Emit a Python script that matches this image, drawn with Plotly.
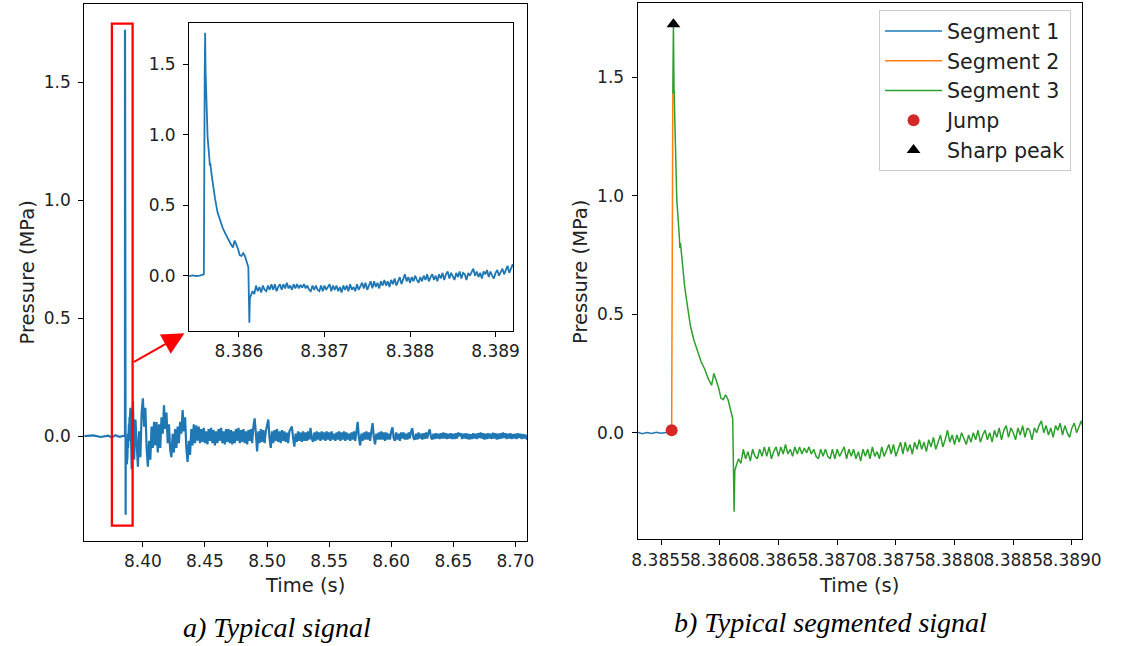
import numpy as np
import plotly.graph_objects as go

# ---------------- data ----------------
# quiet part before the event (left panel only)
pre_t = [8.3527, 8.3600, 8.3660, 8.3720, 8.3750, 8.3780, 8.3810, 8.3845]
pre_p = [0.000, 0.003, -0.004, 0.002, -0.006, 0.004, -0.003, 0.002]

# Segment 1 (baseline before the jump)
seg1_t = [8.38530, 8.38534, 8.38538, 8.38542, 8.38546, 8.38550, 8.38554, 8.38559]
seg1_p = [0.002, -0.004, 0.001, -0.003, 0.002, -0.002, 0.001, 0.010]

# Segment 2 (the jump)
seg2_t = [8.38559, 8.38560]
seg2_p = [0.010, 1.430]

# Segment 3 – decay after the sharp peak
seg3_decay_t = [8.385600, 8.385605, 8.385610, 8.385619, 8.385634, 8.385655, 8.385660,
                8.385665, 8.385680, 8.385700, 8.385720, 8.385750, 8.385780, 8.385810,
                8.385840, 8.385870, 8.385900, 8.385930, 8.385950, 8.385970, 8.385990,
                8.386010, 8.386030, 8.386050, 8.386070, 8.386090, 8.386110, 8.386122,
                8.386128]
seg3_decay_p = [1.430, 1.724, 1.460, 1.260, 0.980, 0.830, 0.780, 0.800, 0.720, 0.620,
                0.550, 0.450, 0.390, 0.340, 0.300, 0.270, 0.230, 0.200, 0.250, 0.220,
                0.190, 0.145, 0.140, 0.160, 0.140, 0.100, 0.060, -0.334, -0.160]

# Segment 3 – noisy tail, sampled every 20 microseconds from 8.38614 s
seg3_tail_start = 8.38614
seg3_tail_step = 0.00002
seg3_tail_p = [
    -0.14, -0.11, -0.13, -0.07, -0.11, -0.08, -0.12, -0.07, -0.10, -0.11,
    -0.07, -0.10, -0.06, -0.10, -0.06, -0.11, -0.08, -0.06, -0.10, -0.06,
    -0.09, -0.05, -0.09, -0.07, -0.10, -0.06, -0.09, -0.06, -0.09, -0.065,
    -0.085, -0.06, -0.09, -0.07, -0.10, -0.11, -0.07, -0.10, -0.07, -0.10,
    -0.11, -0.07, -0.11, -0.07, -0.10, -0.08, -0.06, -0.11, -0.07, -0.10,
    -0.07, -0.11, -0.08, -0.12, -0.07, -0.10, -0.07, -0.11, -0.06, -0.10,
    -0.08, -0.11, -0.06, -0.10, -0.07, -0.05, -0.09, -0.05, -0.10, -0.07,
    -0.04, -0.09, -0.04, -0.08, -0.05, -0.09, -0.04, -0.07, -0.03, -0.07,
    -0.04, -0.08, -0.03, -0.06, -0.02, -0.07, -0.04, -0.01, -0.06, -0.03,
    0.01, -0.04, -0.01, -0.05, -0.01, -0.04, 0.00, -0.03, -0.05, -0.01,
    -0.04, 0.00, -0.03, 0.01, -0.04, -0.01, 0.01, -0.03, 0.00, -0.04,
    0.01, -0.02, 0.02, -0.03, 0.01, 0.03, -0.02, 0.02, 0.00, -0.03,
    0.02, -0.01, 0.03, -0.02, 0.02, 0.01, -0.03, 0.02, 0.00, 0.03,
    0.05, 0.00, 0.03, -0.01, 0.02, -0.02, 0.03, 0.01, 0.04, -0.01,
    0.03, 0.00, -0.02, 0.02, 0.04, 0.00, 0.03, 0.05, 0.01, 0.04,
    0.07, 0.02, 0.05, 0.08, 0.05,
]

# long oscillating tail of the full signal, sampled every 1 ms from 8.390 s
tail_start = 8.390
tail_step = 0.001
tail_p = [
    0.12, -0.14, 0.15, -0.10, 0.07, -0.05, -0.13, 0.02, -0.09, 0.10,
    0.16, 0.04, 0.12, -0.05, -0.13, -0.02, -0.10, 0.04, -0.05, 0.06,
    -0.04, 0.06, -0.07, 0.05, -0.05, 0.08, 0.01, 0.13, 0.03, 0.10,
    -0.03, 0.05, -0.06, -0.09, 0.01, -0.07, 0.03, -0.05, 0.04, -0.03,
    0.06, 0.01, 0.11, 0.02, 0.08, -0.05, -0.11, -0.02, -0.08, 0.03,
    -0.04, 0.05, -0.03, 0.045, -0.02, 0.04, -0.03, 0.03, -0.025, 0.035,
    -0.03, 0.02, -0.035, 0.03, -0.02, 0.035, -0.03, 0.025, -0.04, 0.02,
    -0.03, 0.03, -0.02, 0.035, -0.03, 0.02, -0.035, 0.03, -0.025, 0.03,
    -0.03, 0.025, -0.035, 0.02, -0.03, 0.03, -0.02, 0.035, -0.03, 0.025,
    -0.025, 0.03, -0.03, 0.02, -0.035, 0.025, -0.02, 0.03, -0.03, 0.04,
    0.075, 0.01, -0.065, 0.02, -0.03, 0.03, -0.025, 0.025, -0.03, 0.02,
    0.04, 0.07, -0.01, -0.05, 0.02, -0.03, 0.025, -0.02, 0.03, -0.025,
    0.02, -0.03, 0.025, -0.02, 0.02, -0.025, 0.015, -0.03, 0.02, 0.03,
    0.04, -0.01, -0.045, 0.01, -0.025, 0.02, -0.02, 0.015, -0.025, 0.02,
    -0.02, 0.015, -0.02, 0.02, -0.015, 0.035, -0.01, -0.025, 0.015, -0.02,
    0.02, -0.015, 0.015, -0.02, 0.02, -0.015, 0.015, -0.02, 0.02, -0.015,
    0.015, -0.02, 0.02, -0.015, 0.01, -0.02, 0.015, -0.015, 0.02, -0.02,
    0.015, -0.015, 0.02, -0.02, 0.015, -0.015, 0.01, -0.02, 0.015, -0.015,
    0.02, -0.02, 0.03, 0.06, -0.01, -0.04, 0.01, -0.02, 0.015, -0.015,
    0.02, -0.015, 0.015, -0.02, 0.02, 0.055, -0.005, -0.035, 0.01, -0.015,
    0.015, -0.015, 0.02, -0.015, 0.015, -0.02, 0.015, -0.015, 0.01, -0.015,
    0.02, 0.037, -0.01, -0.02, 0.015, -0.015, 0.01, -0.02, 0.015, -0.01,
    0.015, -0.015, 0.01, -0.015, 0.015, -0.01, 0.02, 0.033, -0.01, -0.015,
    0.01, -0.015, 0.015, -0.01, 0.01, -0.015, 0.012, -0.012, 0.015, -0.01,
    0.015, 0.028, -0.005, -0.015, 0.01, -0.012, 0.012, -0.01, 0.01, -0.012,
    0.012, -0.01, 0.015, -0.01, 0.012, -0.012, 0.01, -0.01, 0.012, -0.012,
    0.01, -0.012, 0.012, -0.01, 0.015, 0.0, 0.012, -0.012, 0.01, -0.01,
    0.012, -0.012, 0.01, -0.015, 0.008, -0.012, 0.012, -0.01, 0.01, -0.012,
    0.012, -0.008, 0.015, -0.01, 0.012, -0.015, 0.01, -0.012, 0.012, -0.01,
    0.01, -0.012, 0.014, -0.01, 0.012, -0.015, 0.01, -0.012, 0.012, -0.01,
    0.015, -0.008, 0.012, -0.012, 0.01, -0.01, 0.012, -0.012, 0.008, -0.01,
    0.01, -0.012, 0.012, -0.008, 0.01, -0.012, 0.008, -0.01, 0.006, -0.01,
    -0.005,
]

jump_t, jump_p = [8.38559], [0.010]
peak_t, peak_p = [8.385605], [1.724]

main_xticks = [8.40, 8.45, 8.50, 8.55, 8.60, 8.65, 8.70]
inset_xticks = [8.386, 8.387, 8.388, 8.389]
seg_xticks = [8.3855, 8.3860, 8.3865, 8.3870, 8.3875, 8.3880, 8.3885, 8.3890]
yticks = [0.0, 0.5, 1.0, 1.5]

# ---------------- assemble series ----------------
seg3_tail_t = list(np.round(seg3_tail_start + seg3_tail_step * np.arange(len(seg3_tail_p)), 6))
tail_t = list(np.round(tail_start + tail_step * np.arange(len(tail_p)), 4))
seg3_t = seg3_decay_t + seg3_tail_t
seg3_p = seg3_decay_p + seg3_tail_p
detail_t = seg1_t + seg2_t + seg3_t
detail_p = seg1_p + seg2_p + seg3_p
full_t = pre_t + detail_t + tail_t
full_p = pre_p + detail_p + tail_p

# ---------------- figure ----------------
W, H = 1123, 646
BLUE, ORANGE, GREEN, RED = '#1f77b4', '#ff7f0e', '#2ca02c', '#d62728'
TXT = '#222222'
FONT = 'DejaVu Sans'

fig = go.Figure()
fig.add_trace(go.Scatter(x=full_t, y=full_p, mode='lines', line=dict(color=BLUE, width=2.2),
                         xaxis='x', yaxis='y', showlegend=False))
fig.add_trace(go.Scatter(x=detail_t, y=detail_p, mode='lines', line=dict(color=BLUE, width=1.8),
                         xaxis='x2', yaxis='y2', showlegend=False))
fig.add_trace(go.Scatter(x=seg1_t, y=seg1_p, mode='lines', name='Segment 1',
                         line=dict(color=BLUE, width=1.5), xaxis='x3', yaxis='y3'))
fig.add_trace(go.Scatter(x=seg2_t, y=seg2_p, mode='lines', name='Segment 2',
                         line=dict(color=ORANGE, width=1.5), xaxis='x3', yaxis='y3'))
fig.add_trace(go.Scatter(x=seg3_t, y=seg3_p, mode='lines', name='Segment 3',
                         line=dict(color=GREEN, width=1.5), xaxis='x3', yaxis='y3'))
fig.add_trace(go.Scatter(x=jump_t, y=jump_p, mode='markers', name='Jump',
                         marker=dict(color=RED, size=12, symbol='circle'), xaxis='x3', yaxis='y3'))
fig.add_trace(go.Scatter(x=peak_t, y=peak_p, mode='markers', name='Sharp peak',
                         marker=dict(color='black', size=12, symbol='triangle-up'), xaxis='x3', yaxis='y3'))

ax_common = dict(showline=True, mirror=True, linecolor='black', linewidth=1.1,
                 ticks='outside', ticklen=5, tickwidth=1.1, tickcolor='black',
                 showgrid=False, zeroline=False,
                 tickfont=dict(family=FONT, size=17, color=TXT))
y_extra = dict(ticklabelstandoff=4)

fig.update_layout(
    width=W, height=H, margin=dict(l=0, r=0, t=0, b=0),
    paper_bgcolor='white', plot_bgcolor='white',
    xaxis=dict(ax_common, domain=[80 / W, 533 / W], range=[8.35276, 8.70945], anchor='y',
               tickvals=main_xticks, tickformat='.2f', tickangle=0),
    yaxis=dict(ax_common, **y_extra, domain=[1 - 540.7 / H, 1 - 4.3 / H], range=[-0.444, 1.832],
               anchor='x', tickvals=yticks, tickformat='.1f'),
    xaxis2=dict(ax_common, domain=[187.3 / W, 519 / W], range=[8.385418, 8.389209], anchor='y2',
                tickvals=inset_xticks, tickformat='.3f', tickangle=0),
    yaxis2=dict(ax_common, **y_extra, domain=[1 - 331 / H, 1 - 22.7 / H], range=[-0.3925, 1.7956],
                anchor='x2', tickvals=yticks, tickformat='.1f'),
    xaxis3=dict(ax_common, domain=[646 / W, 1101 / W], range=[8.3853, 8.38909], anchor='y3',
                tickvals=seg_xticks, tickformat='.4f', tickangle=0),
    yaxis3=dict(ax_common, **y_extra, domain=[1 - 539.3 / H, 1 - 3.3 / H], range=[-0.450, 1.812],
                anchor='x3', tickvals=yticks, tickformat='.1f'),
    legend=dict(x=1089.3 / W, y=1 - 10 / H, xanchor='right', yanchor='top',
                bgcolor='rgba(255,255,255,0.8)', bordercolor='#cccccc', borderwidth=1,
                font=dict(family=FONT, size=20.6, color=TXT), itemwidth=57),
    shapes=[dict(type='rect', xref='x', yref='y', x0=8.37504, x1=8.39174, y0=-0.380, y1=1.750,
                 line=dict(color='red', width=2.3), fillcolor='rgba(0,0,0,0)')],
)

annotations = [
    dict(x=8.43347, y=0.436, ax=8.39174, ay=0.311, xref='x', yref='y', axref='x', ayref='y',
         text='', showarrow=True, arrowhead=2, arrowsize=2.2, arrowwidth=2, arrowcolor='red',
         standoff=0, startstandoff=0),
    dict(x=306 / W, y=1 - 585 / H, xref='paper', yref='paper', text='Time (s)', showarrow=False,
         font=dict(family=FONT, size=19.5, color=TXT), xanchor='center', yanchor='middle'),
    dict(x=872 / W, y=1 - 585 / H, xref='paper', yref='paper', text='Time (s)', showarrow=False,
         font=dict(family=FONT, size=19.5, color=TXT), xanchor='center', yanchor='middle'),
    dict(x=21 / W, y=1 - 273 / H, xref='paper', yref='paper', text='Pressure (MPa)', showarrow=False,
         textangle=-90, font=dict(family=FONT, size=19.5, color=TXT), xanchor='center', yanchor='middle'),
    dict(x=587 / W, y=1 - 272 / H, xref='paper', yref='paper', text='Pressure (MPa)', showarrow=False,
         textangle=-90, font=dict(family=FONT, size=19.5, color=TXT), xanchor='center', yanchor='middle'),
    dict(x=277 / W, y=1 - 627 / H, xref='paper', yref='paper', text='<i>a) Typical signal</i>',
         showarrow=False, font=dict(family='Liberation Serif', size=28, color='black'),
         xanchor='center', yanchor='middle'),
    dict(x=843 / W, y=1 - 622 / H, xref='paper', yref='paper', text='<i>b) Typical segmented signal</i>',
         showarrow=False, font=dict(family='Liberation Serif', size=28, color='black'),
         xanchor='center', yanchor='middle'),
]
fig.update_layout(annotations=annotations)

fig.write_html('out.html', config={'displayModeBar': False},
               post_script="document.body.style.margin='0px';document.body.style.overflow='hidden';")
